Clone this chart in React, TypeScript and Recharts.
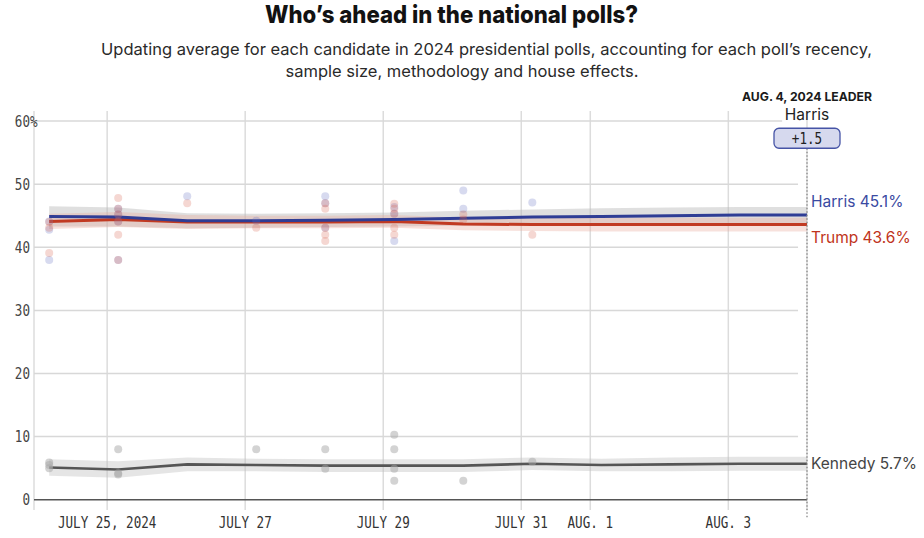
import React from 'react';
import {
  ComposedChart,
  Line,
  Area,
  Scatter,
  XAxis,
  YAxis,
  CartesianGrid,
  ReferenceLine,
} from 'recharts';

// ---------- axes ----------
const X_DOMAIN: [number, number] = [23.94, 35.14];
const Y_DOMAIN: [number, number] = [-1.63, 61.6];
const xTicks = [25, 27, 29, 31, 32, 34];
const xTickLabels = ['JULY 25, 2024', 'JULY 27', 'JULY 29', 'JULY 31', 'AUG. 1', 'AUG. 3'];
const yTicks = [0, 10, 20, 30, 40, 50, 60];
const gridValues = [10, 20, 30, 40, 50, 60];
const LEADER_DAY = 35.14;
const LEADER_DATE_LABEL = 'AUG. 4, 2024 LEADER';

// ---------- trend (polling average) ----------
const trendDays = [24.16, 25.16, 26.16, 27.16, 28.16, 29.16, 30.16, 31.16, 32.16, 33.16, 34.16, 35.14];
const harrisTrend = [44.9, 44.8, 44.2, 44.2, 44.3, 44.4, 44.6, 44.8, 44.9, 45.0, 45.1, 45.1];
const trumpTrend = [44.1, 44.4, 44.0, 44.0, 44.0, 44.1, 43.7, 43.6, 43.6, 43.6, 43.6, 43.6];
const kennedyTrend = [5.1, 4.8, 5.6, 5.5, 5.4, 5.4, 5.4, 5.7, 5.5, 5.6, 5.7, 5.7];
const harrisBandHalf = [1.6, 1.5, 1.2, 1.1, 1.1, 1.1, 1.2, 1.2, 1.3, 1.3, 1.3, 1.3];
const trumpBandHalf = [1.2, 1.2, 1.1, 1.0, 1.0, 1.0, 1.0, 1.0, 1.1, 1.1, 1.1, 1.1];
const kennedyBandHalf = [1.3, 1.3, 1.1, 1.0, 1.0, 1.0, 1.0, 1.0, 1.0, 1.1, 1.1, 1.1];

// ---------- individual polls [day, pct] ----------
const harrisPolls: [number, number][] = [
  [24.16, 44.1], [24.16, 42.8], [24.16, 38.0],
  [25.16, 46.1], [25.16, 45.2], [25.16, 44.1], [25.16, 38.0],
  [26.16, 48.1],
  [27.16, 44.2],
  [28.16, 48.1], [28.16, 47.0], [28.16, 43.1],
  [29.16, 46.4], [29.16, 45.3], [29.16, 41.0],
  [30.16, 49.0], [30.16, 46.1],
  [31.16, 47.1],
];
const trumpPolls: [number, number][] = [
  [24.16, 44.0], [24.16, 43.1], [24.16, 39.1],
  [25.16, 47.8], [25.16, 46.1], [25.16, 45.2], [25.16, 44.1], [25.16, 42.0], [25.16, 38.0],
  [26.16, 47.0],
  [27.16, 43.1],
  [28.16, 47.0], [28.16, 46.1], [28.16, 43.1], [28.16, 42.0], [28.16, 41.0],
  [29.16, 46.9], [29.16, 46.1], [29.16, 45.3], [29.16, 43.1], [29.16, 42.0],
  [30.16, 45.2], [30.16, 44.4],
  [31.16, 42.0],
];
const kennedyPolls: [number, number][] = [
  [24.16, 5.9], [24.16, 5.5], [24.16, 5.0],
  [25.16, 8.0], [25.16, 4.2], [25.16, 4.0],
  [27.16, 8.0],
  [28.16, 8.0], [28.16, 4.9],
  [29.16, 10.3], [29.16, 8.0], [29.16, 4.9], [29.16, 3.0],
  [30.16, 3.0],
  [31.16, 6.0],
];

// ---------- colours ----------
const HARRIS = '#2f3d95';
const TRUMP = '#c13a22';
const KENNEDY = '#555555';
const HARRIS_LABEL = '#3a4aa2';
const TRUMP_LABEL = '#bf3420';

const trendData = trendDays.map((day, i) => ({
  day,
  harris: harrisTrend[i],
  trump: trumpTrend[i],
  kennedy: kennedyTrend[i],
  harrisBand: [harrisTrend[i] - harrisBandHalf[i], harrisTrend[i] + harrisBandHalf[i]],
  trumpBand: [trumpTrend[i] - trumpBandHalf[i], trumpTrend[i] + trumpBandHalf[i]],
  kennedyBand: [kennedyTrend[i] - kennedyBandHalf[i], kennedyTrend[i] + kennedyBandHalf[i]],
}));
const toPts = (arr: [number, number][]) => arr.map(([day, pct]) => ({ day, pct }));
const harrisPts = toPts(harrisPolls);
const trumpPts = toPts(trumpPolls);
const kennedyPts = toPts(kennedyPolls);

const last = trendData.length - 1;
const lead = harrisTrend[last] - trumpTrend[last];
const leaderName = lead >= 0 ? 'Harris' : 'Trump';
const leadText = `+${Math.abs(lead).toFixed(1)}`;

const MONO = '"DejaVu Sans Mono", "Liberation Mono", monospace';
const SANS = 'Inter, "Noto Sans", sans-serif';

const XTick = (props: any) => {
  const { x, y, payload } = props;
  const idx = xTicks.indexOf(payload.value);
  return (
    <g transform={`translate(${x},${y})`}>
      <text transform="scale(0.84,1)" textAnchor="middle" dy="0.72em" fontFamily={MONO} fontSize={15} fill="#333">
        {xTickLabels[idx]}
      </text>
    </g>
  );
};

const YTick = (props: any) => {
  const { x, y, payload } = props;
  const v = payload.value;
  return (
    <g transform={`translate(${x},${y})`}>
      <text transform="scale(0.84,1)" textAnchor="end" dy="0.36em" fontFamily={MONO} fontSize={15} fill="#444">
        {v}
      </text>
      {v === 60 && (
        <text transform="scale(0.84,1)" textAnchor="start" dy="0.36em" fontFamily={MONO} fontSize={15} fill="#444">
          %
        </text>
      )}
    </g>
  );
};

const endLabel = (name: string, color: string, dy: number) => (props: any) => {
  const { x, y, index, value } = props;
  if (index !== last) return null;
  return (
    <text x={x + 4} y={y + dy} fill={color} fontSize={15.5} fontFamily={SANS} dominantBaseline="central">
      {name} {Number(value).toFixed(1)}%
    </text>
  );
};

const LeaderLabel = (props: any) => {
  const vb = props.viewBox || {};
  const cx = vb.x;
  const top = vb.y;
  return (
    <g>
      <text x={cx} y={top - 47} textAnchor="middle" fontFamily={SANS} fontWeight={700} fontSize={12.2} fill="#1a1a1a">
        {LEADER_DATE_LABEL}
      </text>
      <text x={cx} y={top - 28} textAnchor="middle" fontFamily={SANS} fontSize={15.5} fill="#222">
        {leaderName}
      </text>
      <rect x={cx - 33} y={top - 20} width={66} height={20} rx={5} ry={5} fill="#d6d9ee" stroke="#4654a6" strokeWidth={1.3} />
      <g transform={`translate(${cx},${top - 10})`}>
        <text transform="scale(0.84,1)" textAnchor="middle" dy="0.36em" fontFamily={MONO} fontSize={15} fill="#222">
          {leadText}
        </text>
      </g>
    </g>
  );
};

const dot = (fill: string, opacity: number) => (p: any) => (
  <circle cx={p.cx} cy={p.cy} r={4} fill={fill} fillOpacity={opacity} />
);

export default function App() {
  return (
    <div style={{ position: 'absolute', left: 0, top: 0, width: 924, height: 538, background: '#fff' }}>
      <svg width={924} height={90} style={{ position: 'absolute', left: 0, top: 0 }}>
        <text
          x={451.5}
          y={23}
          textAnchor="middle"
          fontFamily={SANS}
          fontWeight={800}
          fontSize={24}
          fill="#121212"
          textLength={373}
          lengthAdjust="spacingAndGlyphs"
        >
          Who’s ahead in the national polls?
        </text>
        <text x={486.5} y={55} textAnchor="middle" fontFamily={SANS} fontSize={16.5} fill="#2a2a2a">
          Updating average for each candidate in 2024 presidential polls, accounting for each poll’s recency,
        </text>
        <text x={462} y={77} textAnchor="middle" fontFamily={SANS} fontSize={16.5} fill="#2a2a2a">
          sample size, methodology and house effects.
        </text>
      </svg>
      <div style={{ position: 'absolute', left: 0, top: 0 }}>
        <ComposedChart width={924} height={538} margin={{ top: 111, right: 117, bottom: 0, left: 0 }}>
          <CartesianGrid horizontal={false} vertical stroke="#dcdcdc" strokeWidth={1.5} />
          <XAxis
            type="number"
            dataKey="day"
            domain={X_DOMAIN}
            ticks={xTicks}
            allowDataOverflow
            axisLine={false}
            tickLine={false}
            tickSize={4}
            tickMargin={3}
            height={28}
            tick={<XTick />}
          />
          <YAxis
            type="number"
            domain={Y_DOMAIN}
            ticks={yTicks}
            allowDataOverflow
            axisLine={false}
            tickLine={false}
            tickSize={4}
            tickMargin={0}
            width={34}
            tick={<YTick />}
          />
          {gridValues.map((v) => (
            <ReferenceLine
              key={v}
              segment={[{ x: X_DOMAIN[0], y: v }, { x: v === 60 ? 34.78 : 35.01, y: v }]}
              stroke="#d8d8d8"
              strokeWidth={1.5}
            />
          ))}
          <ReferenceLine
            segment={[{ x: X_DOMAIN[0], y: 0 }, { x: X_DOMAIN[1], y: 0 }]}
            stroke="#555"
            strokeWidth={1.5}
          />
          <Area data={trendData} dataKey="kennedyBand" type="linear" stroke="none" fill="#bdbdbd" fillOpacity={0.4} isAnimationActive={false} />
          <Area data={trendData} dataKey="harrisBand" type="linear" stroke="none" fill="#b8b8b8" fillOpacity={0.45} isAnimationActive={false} />
          <Area data={trendData} dataKey="trumpBand" type="linear" stroke="none" fill="#e8a99c" fillOpacity={0.35} isAnimationActive={false} />
          <Scatter data={kennedyPts} dataKey="pct" shape={dot('#a8a8a8', 0.5)} isAnimationActive={false} />
          <Scatter data={harrisPts} dataKey="pct" shape={dot('#5e6cc0', 0.25)} isAnimationActive={false} />
          <Scatter data={trumpPts} dataKey="pct" shape={dot('#d9604a', 0.25)} isAnimationActive={false} />
          <Line data={trendData} dataKey="kennedy" type="linear" stroke={KENNEDY} strokeWidth={2.6} dot={false} isAnimationActive={false} label={endLabel('Kennedy', '#444', 0)} />
          <Line data={trendData} dataKey="trump" type="linear" stroke={TRUMP} strokeWidth={3} dot={false} isAnimationActive={false} label={endLabel('Trump', TRUMP_LABEL, 12.5)} />
          <Line data={trendData} dataKey="harris" type="linear" stroke={HARRIS} strokeWidth={3} dot={false} isAnimationActive={false} label={endLabel('Harris', HARRIS_LABEL, -13.5)} />
          <ReferenceLine
            segment={[{ x: LEADER_DAY, y: 55.7 }, { x: LEADER_DAY, y: -2.9 }]}
            ifOverflow="visible"
            stroke="#888"
            strokeWidth={1.3}
            strokeDasharray="1.5 2"
            label={LeaderLabel}
          />
        </ComposedChart>
      </div>
    </div>
  );
}
